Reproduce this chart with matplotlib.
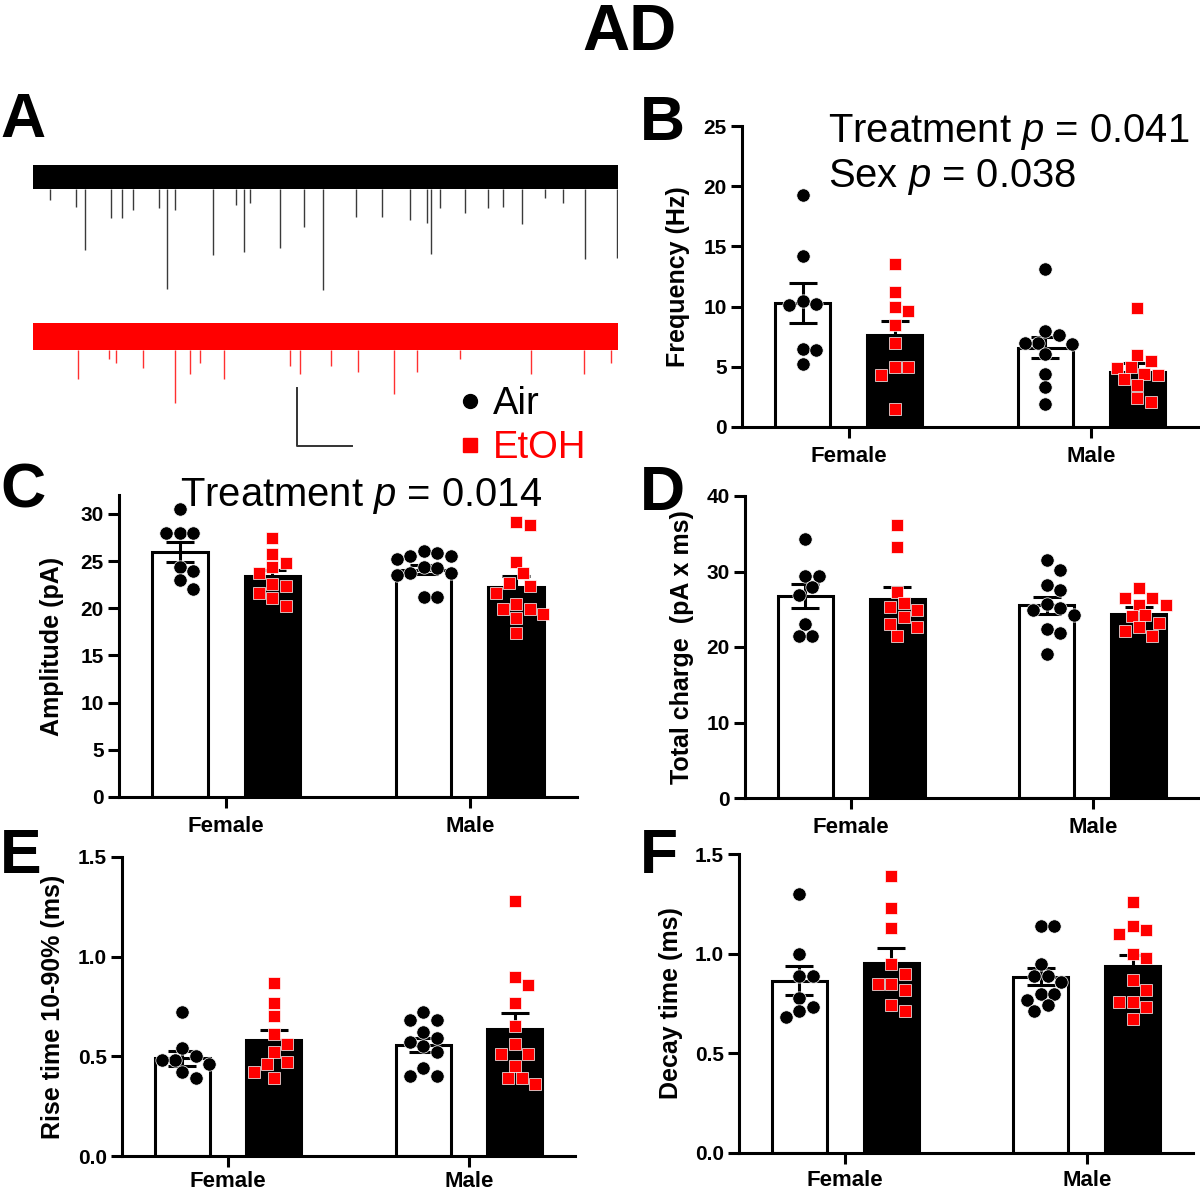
import matplotlib
matplotlib.use("Agg")
import matplotlib.pyplot as plt
from matplotlib.lines import Line2D
import numpy as np

plt.rcParams["font.family"] = ["Liberation Sans", "DejaVu Sans"]
plt.rcParams["mathtext.fontset"] = "custom"
plt.rcParams["mathtext.rm"] = "Liberation Sans"
plt.rcParams["mathtext.it"] = "Liberation Sans:italic"

groups = ["Female", "Male"]

# --- A: example traces (event time in s, event depth in pA below baseline) ---
trace_len = 10.64
air_noise = 4.2
etoh_noise = 4.6
etoh_offset = -55.0
air_event_t = [0.31, 0.78, 0.95, 1.42, 1.62, 1.82, 2.29, 2.44, 2.58, 3.27, 3.69, 3.84, 3.95,
               4.49, 4.93, 5.27, 5.87, 6.35, 6.85, 7.16, 7.24, 7.40, 7.85, 8.27, 8.55, 8.89,
               9.31, 9.64, 10.04, 10.62]
air_event_amp = [7.9, 10.3, 25.2, 14.1, 14.1, 11.4, 10.7, 38.6, 11.4, 26.9, 9.7, 25.9, 9.0,
                 24.5, 17.2, 39.0, 13.8, 13.8, 14.8, 15.9, 26.6, 10.7, 12.4, 10.7, 10.3, 16.2,
                 7.2, 9.0, 28.3, 27.9]
etoh_event_t = [0.82, 1.38, 1.51, 2.00, 2.58, 2.85, 3.04, 3.47, 4.67, 4.85, 5.42, 5.91, 6.56,
                6.98, 7.76, 9.05, 10.02, 10.51]
etoh_event_amp = [14.8, 7.6, 9.3, 11.0, 23.1, 13.1, 9.3, 14.8, 10.3, 12.8, 10.3, 12.1, 19.7,
                  12.1, 7.9, 12.8, 12.8, 9.3]

# --- B: frequency (Hz) ---
freq_air_f = [19.3, 14.2, 10.5, 10.1, 10.2, 6.5, 6.4, 5.2]
freq_etoh_f = [13.5, 11.2, 10.0, 9.6, 8.5, 7.0, 5.0, 5.0, 4.3, 1.5]
freq_air_m = [13.1, 8.0, 7.6, 7.0, 7.0, 6.9, 6.1, 4.4, 3.3, 1.9]
freq_etoh_m = [9.9, 6.0, 5.5, 5.0, 4.9, 4.4, 4.3, 4.0, 3.5, 2.4, 2.1]
freq_mean = [10.3, 7.6, 6.6, 4.6]
freq_sem = [1.7, 1.2, 0.9, 0.7]

# --- C: amplitude (pA) ---
amp_air_f = [30.5, 28.0, 28.0, 28.0, 24.4, 23.9, 23.0, 22.0]
amp_etoh_f = [27.4, 25.8, 24.8, 24.35, 23.7, 22.55, 22.4, 21.6, 21.1, 20.25]
amp_air_m = [26.1, 25.9, 25.5, 25.5, 25.2, 24.4, 24.3, 23.7, 23.7, 23.5, 21.2, 21.2]
amp_etoh_m = [29.1, 28.85, 24.95, 23.7, 22.66, 22.4, 21.6, 20.4, 19.9, 19.9, 19.4, 18.95, 17.4]
amp_mean = [26.0, 23.4, 24.1, 22.2]
amp_sem = [1.05, 0.7, 0.5, 1.2]

# --- D: total charge (pA x ms) ---
chg_air_f = [34.3, 29.4, 29.4, 28.0, 26.9, 23.0, 21.5, 21.5]
chg_etoh_f = [36.1, 33.3, 27.3, 25.8, 25.3, 24.9, 24.0, 23.1, 22.7, 21.4]
chg_air_m = [31.5, 30.2, 28.2, 27.55, 25.7, 25.1, 24.9, 24.25, 22.35, 21.8, 19.1]
chg_etoh_m = [27.8, 26.45, 26.45, 25.6, 25.6, 24.1, 24.2, 23.15, 22.7, 22.1, 21.5]
chg_mean = [26.7, 26.3, 25.5, 24.4]
chg_sem = [1.6, 1.6, 1.1, 0.9]

# --- E: rise time 10-90% (ms) ---
rise_air_f = [0.72, 0.54, 0.50, 0.48, 0.48, 0.46, 0.42, 0.39]
rise_etoh_f = [0.87, 0.77, 0.70, 0.61, 0.56, 0.52, 0.47, 0.46, 0.42, 0.39]
rise_air_m = [0.72, 0.68, 0.68, 0.62, 0.59, 0.57, 0.55, 0.52, 0.44, 0.40, 0.40]
rise_etoh_m = [1.28, 0.90, 0.86, 0.77, 0.65, 0.56, 0.51, 0.51, 0.45, 0.39, 0.39, 0.36]
rise_mean = [0.49, 0.58, 0.556, 0.637]
rise_sem = [0.037, 0.05, 0.035, 0.078]

# --- F: decay time (ms) ---
dec_air_f = [1.30, 1.00, 0.89, 0.89, 0.78, 0.73, 0.71, 0.68]
dec_etoh_f = [1.39, 1.23, 1.13, 0.95, 0.90, 0.85, 0.85, 0.82, 0.74, 0.71]
dec_air_m = [1.14, 1.14, 0.95, 0.89, 0.89, 0.86, 0.80, 0.80, 0.77, 0.74, 0.71]
dec_etoh_m = [1.26, 1.14, 1.12, 1.10, 1.00, 0.98, 0.87, 0.82, 0.76, 0.76, 0.73, 0.67]
dec_mean = [0.865, 0.953, 0.885, 0.936]
dec_sem = [0.072, 0.076, 0.043, 0.055]

W, H = 1200, 1193
fig = plt.figure(figsize=(W / 100, H / 100), dpi=100)


def px_axes(left, right, y0, ytop):
    return fig.add_axes([left / W, 1 - y0 / H, (right - left) / W, (y0 - ytop) / H])


def swarm(ypix, d):
    offs = np.zeros(len(ypix))
    placed = []
    cands = [0.0]
    for m in range(1, 30):
        cands += [0.5 * d * m, -0.5 * d * m]
    for i in np.argsort(-ypix):
        for c in cands:
            ok = all((c - px) ** 2 + (ypix[i] - py) ** 2 >= (0.92 * d) ** 2 for px, py in placed)
            if ok:
                offs[i] = c
                placed.append((c, ypix[i]))
                break
    return offs


def bar_panel(ax, sets, means, sems, ylim, yticks, ylabel, fmt, label_x, xpad=6):
    xs = [-0.19, 0.19, 0.81, 1.19]
    ax.set_xlim(-0.44, 1.44)
    ax.set_ylim(*ylim)
    for i in range(4):
        air = i % 2 == 0
        ax.bar(xs[i], means[i], width=0.227, color="white" if air else "black",
               edgecolor="black", linewidth=2.2, zorder=2)
    sx = ax.transData.transform([(1, 0)])[0][0] - ax.transData.transform([(0, 0)])[0][0]
    sy = ax.transData.transform([(0, 1)])[0][1] - ax.transData.transform([(0, 0)])[0][1]
    ax.errorbar(xs, means, yerr=sems, fmt="none", ecolor="black", elinewidth=2.2,
                capsize=10, capthick=2.2, zorder=3)
    for i, vals in enumerate(sets):
        air = i % 2 == 0
        vals = np.array(vals)
        offs = swarm(vals * sy, 13.5)
        ax.plot(xs[i] + offs / sx, vals, ls="none",
                marker="o" if air else "s", ms=9.6 if air else 8.8,
                mfc="black" if air else "#ff0000", mec="white", mew=0.5,
                zorder=4, clip_on=False)
    for s in ["top", "right"]:
        ax.spines[s].set_visible(False)
    for s in ["left", "bottom"]:
        ax.spines[s].set_linewidth(2.2)
    ax.set_xticks([0, 1])
    ax.set_xticklabels(groups, fontsize=16, fontweight="bold")
    ax.set_yticks(yticks)
    ax.set_yticklabels([fmt.format(t) for t in yticks], fontsize=15, fontweight="bold")
    ax.tick_params(direction="out", length=8, width=2.2, pad=3)
    ax.tick_params(axis="x", pad=xpad)
    ax.set_ylabel(ylabel, fontsize=18, fontweight="bold")
    ax.yaxis.set_label_coords(label_x, 0.5)


# panel A traces
axA = px_axes(33, 618, 460, 150)
axA.set_xlim(0, trace_len)
axA.set_ylim(-97.6, 9.3)
axA.axis("off")
for off, ts, amps, noise, col, spike_col in [
        (0.0, air_event_t, air_event_amp, air_noise, "black", "#3a3a3a"),
        (etoh_offset, etoh_event_t, etoh_event_amp, etoh_noise, "#ff0000", "#ff3030")]:
    axA.fill_between([0, trace_len], off - noise, off + noise, color=col, lw=0)
    axA.vlines(ts, off - noise, off - np.array(amps), color=spike_col, lw=1.0)
axA.plot([4.8, 4.8, 5.8], [-72.8, -92.8, -92.8], color="#333333", lw=1.4)

handles = [Line2D([], [], ls="none", marker="o", ms=10, mfc="black", mec="black"),
           Line2D([], [], ls="none", marker="s", ms=10, mfc="#ff0000", mec="#ff0000")]
fig.legend(handles, ["Air", "EtOH"], loc="upper left", bbox_to_anchor=(459 / W, 1 - 386 / H),
           frameon=False, fontsize=27.5, handlelength=0.6, handletextpad=0.3,
           labelspacing=0.22, borderaxespad=0, borderpad=0, labelcolor="markerfacecolor")

axB = px_axes(742, 1198, 427, 126)
bar_panel(axB, [freq_air_f, freq_etoh_f, freq_air_m, freq_etoh_m], freq_mean, freq_sem,
          (0, 25), [0, 5, 10, 15, 20, 25], "Frequency (Hz)", "{:.0f}", -0.114)
axC = px_axes(119, 577, 797, 495)
bar_panel(axC, [amp_air_f, amp_etoh_f, amp_air_m, amp_etoh_m], amp_mean, amp_sem,
          (0, 32), [0, 5, 10, 15, 20, 25, 30], "Amplitude (pA)", "{:.0f}", -0.12)
axD = px_axes(745, 1199, 798, 496)
bar_panel(axD, [chg_air_f, chg_etoh_f, chg_air_m, chg_etoh_m], chg_mean, chg_sem,
          (0, 40), [0, 10, 20, 30, 40], "Total charge  (pA x ms)", "{:.0f}", -0.112)
axE = px_axes(122, 575, 1156, 857)
bar_panel(axE, [rise_air_f, rise_etoh_f, rise_air_m, rise_etoh_m], rise_mean, rise_sem,
          (0, 1.5), [0, 0.5, 1.0, 1.5], "Rise time 10-90% (ms)", "{:.1f}", -0.126, xpad=3)
axF = px_axes(739, 1193, 1153, 854)
bar_panel(axF, [dec_air_f, dec_etoh_f, dec_air_m, dec_etoh_m], dec_mean, dec_sem,
          (0, 1.5), [0, 0.5, 1.0, 1.5], "Decay time (ms)", "{:.1f}", -0.123, xpad=4)

# titles, panel letters, statistics
fig.text(629 / W, 1 - 50 / H, "AD", ha="center", va="baseline", fontsize=47, fontweight="bold")
for letter, x, yb in [("A", 0, 137), ("B", 640, 140), ("C", 0, 507),
                      ("D", 640, 510), ("E", 0, 873), ("F", 640, 873)]:
    fig.text(x / W, 1 - yb / H, letter, ha="left", va="baseline", fontsize=45, fontweight="bold")
fig.text(828 / W, 1 - 142 / H, "Treatment $p$ = 0.041", fontsize=28.8, va="baseline")
fig.text(828 / W, 1 - 187 / H, "Sex $p$ = 0.038", fontsize=28.8, va="baseline")
fig.text(180 / W, 1 - 506 / H, "Treatment $p$ = 0.014", fontsize=28.8, va="baseline")

fig.savefig("out.png", dpi=100)
